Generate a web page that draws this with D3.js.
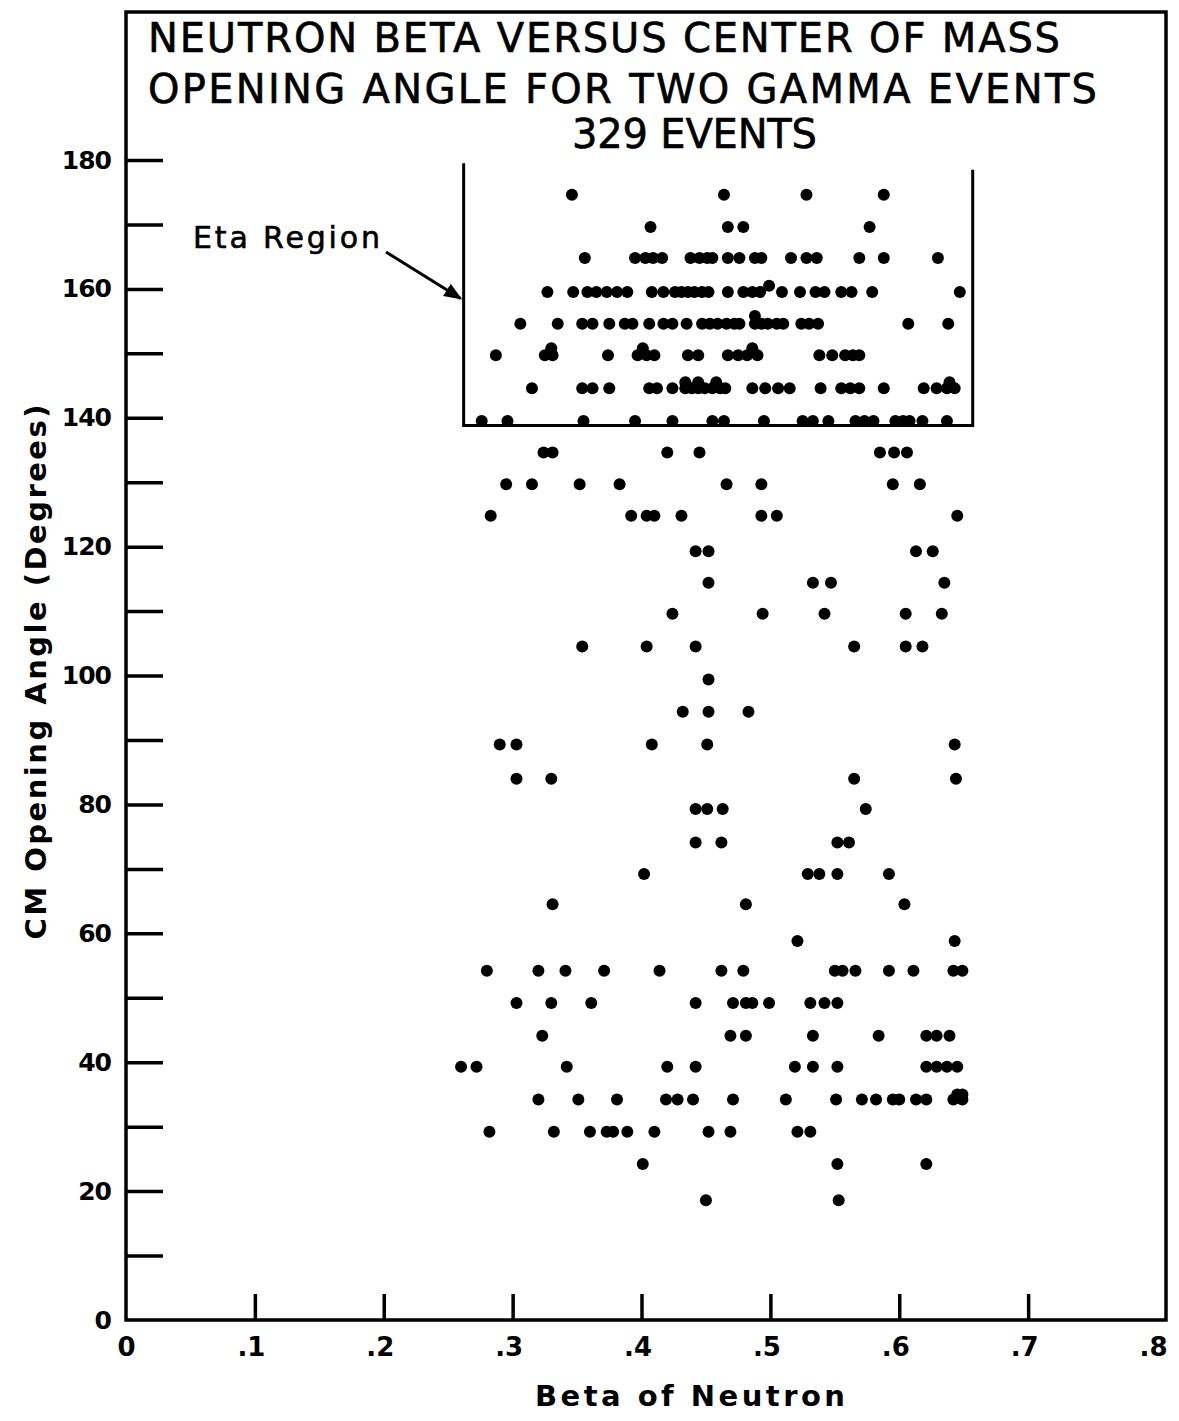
<!DOCTYPE html>
<html>
<head>
<meta charset="utf-8">
<script src="https://cdn.jsdelivr.net/npm/d3@7"></script>
<style>
  body { margin: 0; background: #fff; }
  svg { display: block; }
  text { font-family: "DejaVu Sans", sans-serif; fill: #000; }
</style>
</head>
<body>
<svg id="chart" width="1179" height="1421"></svg>
<script>
// rows of events: each row has one CM opening angle and the neutron betas seen there
var rowAngles = [174.6, 169.6, 164.8, 159.5, 160.5, 154.6, 155.8, 149.7, 150.8, 144.6, 145.5, 139.5,
  134.6, 129.7, 124.8, 119.3, 114.4, 109.6, 104.5, 99.4, 94.4, 89.3, 84.0, 79.3, 74.1, 69.2, 64.5,
  58.8, 54.2, 49.2, 44.1, 39.3, 34.2, 35.0, 29.2, 24.2, 18.6];

var rowBetas = [
  [.346, .464, .528, .588],
  [.407, .467, .479, .577],
  [.356, .395, .403, .409, .416, .438, .445, .451, .455, .467, .476, .488, .493, .516, .528, .536, .569, .588, .630],
  [.327, .347, .358, .365, .373, .381, .389, .408, .417, .426, .431, .436, .441, .447, .452, .467, .479, .486, .492, .509, .523, .535, .542, .555, .563, .579, .647],
  [.499],
  [.306, .335, .354, .362, .375, .387, .393, .406, .417, .424, .435, .447, .453, .459, .466, .472, .476, .488, .493, .498, .505, .510, .524, .530, .537, .607, .638],
  [.488],
  [.287, .325, .331, .374, .397, .404, .410, .436, .444, .467, .475, .482, .490, .538, .548, .558, .564, .569],
  [.330, .401, .486],
  [.315, .354, .362, .375, .406, .412, .424, .434, .439, .444, .449, .455, .461, .465, .486, .496, .506, .515, .539, .555, .562, .569, .588, .619, .629, .637, .643],
  [.434, .444, .458, .639],
  [.276, .296, .355, .395, .424, .455, .464, .495, .525, .533, .545, .566, .573, .580, .597, .603, .608, .618, .637],
  [.324, .331, .420, .445, .585, .596, .606],
  [.295, .315, .352, .383, .466, .493, .595, .616],
  [.283, .392, .404, .410, .431, .493, .505, .645],
  [.442, .452, .613, .626],
  [.452, .533, .547, .635],
  [.424, .494, .542, .605, .633],
  [.354, .404, .442, .565, .605, .618],
  [.452],
  [.432, .452, .483],
  [.290, .303, .408, .451, .643],
  [.303, .330, .565, .644],
  [.442, .451, .463, .574],
  [.442, .462, .552, .561],
  [.402, .529, .538, .552, .592],
  [.331, .481, .604],
  [.521, .643],
  [.280, .320, .341, .371, .414, .462, .479, .550, .556, .566, .592, .611, .642, .649],
  [.303, .330, .361, .442, .471, .481, .486, .499, .531, .542, .552],
  [.323, .469, .481, .533, .584, .621, .629, .639],
  [.260, .272, .342, .420, .442, .519, .533, .552, .621, .629, .637, .645],
  [.320, .351, .381, .419, .428, .440, .471, .512, .551, .571, .582, .595, .600, .613, .621, .642, .649],
  [.645, .649],
  [.282, .332, .360, .373, .378, .389, .410, .452, .469, .521, .531],
  [.401, .552, .621],
  [.450, .553]
];

// eta region box (beta range, angle range)
var etaBeta = [0.262, 0.657];
var etaAngle = [138.8, 179.5];

var titleLines = ["NEUTRON  BETA  VERSUS  CENTER  OF  MASS",
                  "OPENING  ANGLE  FOR  TWO  GAMMA  EVENTS",
                  "329  EVENTS"];

var svg = d3.select("#chart");

var x = d3.scaleLinear().domain([0, 0.8]).range([126, 1157]);
var y = d3.scaleLinear().domain([0, 180]).range([1320, 160]);

var points = [];
rowBetas.forEach(function(row, i) {
  row.forEach(function(b) { points.push({beta: b, angle: rowAngles[i]}); });
});

// frame
svg.append("path")
    .attr("d", "M" + x(0) + "," + 12 + "H1166V" + y(0) + "H" + x(0) + "Z")
    .attr("fill", "none")
    .attr("stroke", "#000")
    .attr("stroke-width", 3.5);

// title
var titleX = [148, 148, 572],
    titleY = [52, 103, 148],
    titleW = [912, 949, 245];
svg.selectAll(".title")
  .data(titleLines)
  .enter().append("text")
    .attr("class", "title")
    .attr("x", function(d, i) { return titleX[i]; })
    .attr("y", function(d, i) { return titleY[i]; })
    .attr("font-size", 40)
    .attr("stroke", "#000")
    .attr("stroke-width", 0.6)
    .attr("textLength", function(d, i) { return titleW[i]; })
    .attr("lengthAdjust", "spacing")
    .text(function(d) { return d; });

// Y axis
var yAxis = svg.append("g")
    .attr("transform", "translate(" + x(0) + ",0)")
    .call(d3.axisLeft(y)
      .tickValues(d3.range(0, 181, 10))
      .tickSize(-37)
      .tickPadding(15)
      .tickFormat(function(d) { return d % 20 === 0 ? d : ""; }));
yAxis.select(".domain").remove();
yAxis.selectAll(".tick line").attr("stroke-width", 3.5)
    .filter(function(d) { return d === 0; }).remove();
yAxis.selectAll(".tick text")
    .attr("font-size", 25)
    .attr("font-weight", "bold")
    .attr("letter-spacing", -1)
    .attr("font-family", "DejaVu Sans");

// X axis
var xAxis = svg.append("g")
    .attr("transform", "translate(0," + y(0) + ")")
    .call(d3.axisBottom(x)
      .tickValues(d3.range(0, 9).map(function(i) { return i / 10; }))
      .tickSize(-26)
      .tickPadding(18)
      .tickFormat(function(d) { return d === 0 ? "0" : d3.format(".1f")(d).replace(/^0/, ""); }));
xAxis.select(".domain").remove();
xAxis.selectAll(".tick line").attr("stroke-width", 3.5)
    .filter(function(d) { return d === 0 || d > 0.75; }).remove();
xAxis.selectAll(".tick text")
    .attr("font-size", 26)
    .attr("font-weight", "bold")
    .attr("font-family", "DejaVu Sans")
    .attr("dx", function(d) { return d === 0 ? 0 : -4; });

// axis titles
svg.append("text")
    .attr("x", 690)
    .attr("y", 1406)
    .attr("text-anchor", "middle")
    .attr("font-size", 29)
    .attr("font-weight", "bold")
    .attr("textLength", 310)
    .attr("lengthAdjust", "spacing")
    .text("Beta  of  Neutron");

svg.append("text")
    .attr("transform", "translate(46,672) rotate(-90)")
    .attr("text-anchor", "middle")
    .attr("font-size", 29)
    .attr("font-weight", "bold")
    .attr("textLength", 535)
    .attr("lengthAdjust", "spacing")
    .text("CM Opening Angle (Degrees)");

// eta region box
svg.append("path")
    .attr("d", "M" + x(etaBeta[0]) + "," + y(etaAngle[1]) +
               "V" + y(etaAngle[0]) + "H" + x(etaBeta[1]) + "V" + y(etaAngle[1] - 1))
    .attr("fill", "none")
    .attr("stroke", "#000")
    .attr("stroke-width", 3);

svg.append("text")
    .attr("x", 193)
    .attr("y", 248)
    .attr("font-size", 30)
    .attr("stroke", "#000")
    .attr("stroke-width", 0.6)
    .attr("textLength", 187)
    .attr("lengthAdjust", "spacing")
    .text("Eta Region");

svg.append("defs").append("marker")
    .attr("id", "arrow")
    .attr("viewBox", "0 0 10 10")
    .attr("refX", 9).attr("refY", 5)
    .attr("markerWidth", 6).attr("markerHeight", 6)
    .attr("orient", "auto")
  .append("path")
    .attr("d", "M0,1L10,5L0,9Z")
    .attr("fill", "#000");

svg.append("line")
    .attr("x1", 386).attr("y1", 252)
    .attr("x2", x(etaBeta[0]) - 3).attr("y2", y(158.5))
    .attr("stroke", "#000")
    .attr("stroke-width", 3)
    .attr("marker-end", "url(#arrow)");

// events
svg.append("g")
  .selectAll("circle")
  .data(points)
  .enter().append("circle")
    .attr("cx", function(d) { return x(d.beta); })
    .attr("cy", function(d) { return y(d.angle); })
    .attr("r", 6)
    .attr("fill", "#000");
</script>
</body>
</html>
